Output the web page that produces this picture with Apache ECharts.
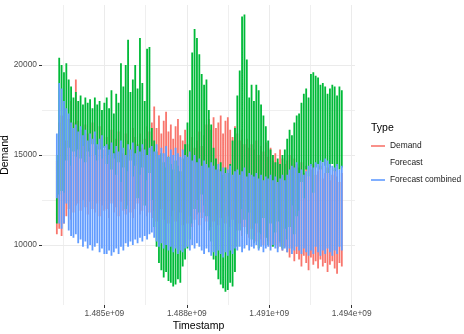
<!DOCTYPE html>
<html>
<head>
<meta charset="utf-8">
<script src="https://cdn.jsdelivr.net/npm/echarts@6/dist/echarts.min.js"></script>
<style>
html,body{margin:0;padding:0;background:#fff;}
#c{width:464px;height:334px;}
</style>
</head>
<body>
<div id="c"></div>
<script>
// ---- data (daily low / high envelope of hourly values) ----
const firstDay = 1483228800;          // 2017-01-01 00:00 UTC
const daySeconds = 86400;
const seriesNames = ['Demand', 'Forecast', 'Forecast combined'];
const seriesColors = ['#F8766D', '#00BA38', '#619CFF'];
const xTickValues = [1.485e9, 1.488e9, 1.491e9, 1.494e9];
const xGridValues = [1.4835e9, 1.485e9, 1.4865e9, 1.488e9, 1.4895e9, 1.491e9, 1.4925e9, 1.494e9];
const yTickValues = [10000, 15000, 20000];
const yGridValues = [10000, 12500, 15000, 17500, 20000];

const demandHigh = [
  14700, 16800, 17200,
  16500, 15800, 17000, 18000, 16800, 19200,
  16900, 16400, 15600, 16700, 16200, 15400, 16800, 16100, 15500, 16600, 16000, 15300,
  16000, 15600, 16400, 15200, 15900, 16300, 15500, 15100, 16200, 15800, 15300, 16500, 16000, 15600, 16200, 15400, 15900, 16600, 16300,
  16800, 17700, 16500, 17200, 16200, 16900, 17400, 16300, 16700, 15900, 16600, 17000, 16100, 15800, 16400,
  15600, 15200, 16000, 15400, 15800, 16300, 15500, 16100, 16700, 17000, 16400,
  17100, 16500, 16800, 17200, 16200, 16900, 17100, 16400, 16000, 16600,
  16200, 15800, 16400, 15600, 15900, 15400, 15600,
  15300, 15800, 15000, 15500, 15200, 15700,
  14900, 15400, 14700, 15100, 14600, 15300, 14800, 14500,
  14700, 15000, 14400, 14800, 14500,
  14300, 14600, 14000, 14400, 13800, 14200, 14500, 13900, 14100, 14400, 13700, 14000, 14300, 13600, 13900, 14200, 13800, 13500, 14000
];
const demandLow = [
  10600, 10900, 10500,
  11200, 11600, 12000, 11400, 11800, 12200,
  12300, 11900, 12500, 12100, 11700, 12400, 12000, 11800, 12300, 11600, 12200, 11900,
  12000, 11500, 12300, 11800, 12100, 11600, 12400, 11900, 11700, 12200, 11800, 11500, 12000, 12300, 11700, 11900, 12200, 11600, 11800,
  11500, 11900, 11300, 11700, 12000, 11400, 11800, 11200, 11600, 11900, 11300, 11500, 11800, 11100, 11400,
  11200, 11600, 11000, 11400, 11700, 11100, 11500, 11800, 11300, 11600, 11000,
  11300, 11700, 11100, 11500, 11800, 11200, 11600, 11000, 11400, 11100,
  10800, 11200, 10500, 11000, 10700, 10400, 10900,
  10500, 10200, 10700, 10300, 10000, 10400,
  10200, 9900, 10300, 10000, 9800, 10100, 9700, 9900,
  9600, 9300, 9800, 9100, 9500,
  9200, 8800, 9400, 9000, 8600, 9300, 8900, 9100, 8700, 9200, 8800, 9000, 8500, 8900, 9100, 8700, 8400, 9000, 8800
];
const forecastHigh = [
  15000, 20400, 20000,
  19600, 20100, 19200, 18800, 18200, 18500,
  18000, 18300, 17800, 18200, 17900, 18100, 17600, 18200, 17800, 18000, 17500, 17900,
  18200, 17600, 18600, 17300, 18400, 17900, 20100, 18800, 20000, 21400, 18500, 19200, 20000, 18700, 21500, 19000, 18000, 20900, 21000,
  16500, 15800, 15200, 14800, 15100, 14600, 14300, 14900, 14500, 14200, 14700, 14400, 14100, 14800, 15600,
  16800, 18600, 20700, 22000, 21500, 20600, 19500, 18900, 19200, 17500, 16700,
  15400, 14800, 14200, 14600, 13900, 14300, 14000, 14500, 15800, 16500,
  18300, 19700, 22700, 22800, 20300, 18200, 18900,
  18000, 18900, 18600, 17800, 17200, 16600,
  15800, 15300, 15000, 14600, 14800, 14500, 15000, 15300,
  15900, 16400, 16100, 16800, 17200,
  17300, 17900, 18400, 18700, 18200, 19500, 19600, 19400, 19300, 18900, 19000, 18800, 18400, 18700, 18900, 18800, 18300, 18800, 18600
];
const forecastLow = [
  11200, 12800, 13000,
  12900, 14700, 15400, 14400, 15200, 14900,
  15300, 14800, 15500, 14600, 15200, 14900, 15600, 15000, 14700, 15300, 14800, 15400,
  14500, 15000, 14200, 14800, 13900, 14600, 13500, 14300, 12000, 14100, 14700, 13800, 14400, 12600, 13900, 14300, 12200, 13600, 14000,
  12500, 11000, 9900, 9000, 8600, 8200, 8500, 8000, 7900, 7700, 7800, 8100, 7900, 8800, 9200,
  9800, 10300, 11200, 12000, 12500, 11800, 12800, 12200, 11600, 10800, 10200,
  9200, 8600, 8100, 7800, 7600, 7400, 7500, 7900, 7700, 8500,
  9900, 10800, 12000, 11400, 10600, 11800, 10300,
  10100, 11200, 9800, 10600, 11500, 10400,
  10000, 11200, 9900, 10700, 11300, 10200, 9800, 10900,
  10300, 11000, 12200, 10600, 11600,
  11900, 13500, 12600, 14200, 13800, 14400, 12900, 14300, 14500, 14200, 14600, 14400, 14000, 14300, 14500, 14100, 14400, 14200, 14300
];
const combinedHigh = [
  16200, 19000, 18700,
  18000, 17600, 17300, 16800, 16500, 16700,
  16300, 16600, 16100, 16400, 15800, 16200, 15900, 16300, 15600, 15900, 16100, 15500,
  15600, 15300, 15700, 15100, 15500, 15200, 15800, 15400, 15000, 15600, 15300, 15700, 15100, 15500, 15200, 15600, 15300, 15000, 15400,
  15500, 15200, 15600, 15000, 15400, 15100, 15500, 14900, 15300, 15000, 15400, 15100, 14900, 15300, 15000,
  14900, 15200, 14700, 15000, 14600, 14800, 14400, 14700, 14500, 14300, 14600,
  14400, 14200, 14500, 14100, 14300, 14000, 14200, 14400, 13900, 14100,
  14200, 13900, 14100, 14300, 13800, 14000, 13900,
  13800, 14000, 13700, 13900, 13600, 13800,
  13700, 13900, 13600, 13800, 13500, 13700, 13900, 13600,
  13900, 14200, 14400, 14300, 14600,
  14000, 14200, 13900, 14100, 14400, 14500, 14300, 14600, 14500, 14700, 14600, 14800, 14700, 14500, 14400, 14300, 14500, 14200, 14400
];
const combinedLow = [
  12600, 11200, 10900,
  11200, 12300, 10800, 10500, 10400, 10600,
  10100, 10300, 9900, 10200, 9800, 10000, 9700, 9900, 10100, 9600, 9800, 9500,
  9500, 9700, 9400, 9600, 9800, 9500, 9900, 9700, 10100, 9900, 10200, 10000, 10300, 10100, 10400, 10200, 10500, 10300, 10600,
  10700, 10400, 10200, 9900, 10100, 9800, 10000, 9700, 9900, 9600, 9800, 9500, 9700, 9600, 9800,
  9900, 9700, 10000, 9800, 10100, 9900, 9700, 9500, 9800, 9600, 9400,
  9600, 9400, 9700, 9500, 9300, 9600, 9400, 9700, 9500, 9800,
  9700, 9900, 9600, 9800, 10000, 9700, 9900,
  9800, 10000, 9700, 9900, 9600, 9800,
  9900, 9700, 10000, 9800, 9600, 9900, 9700, 9800,
  9600, 9800, 9500, 9700, 9900,
  9700, 9500, 9800, 9600, 9400, 9700, 9500, 9900, 9600, 9400, 9700, 9500, 9800, 9600, 9400, 9700, 9500, 9900, 9700
];

// ---- build ----
function strokes(lows, highs) {
  const n = Math.min(lows.length, highs.length);
  const out = [];
  for (let i = 0; i < n; i++) {
    const t = firstDay + i * daySeconds + 12 * 3600;
    out.push([t, lows[i]]);
    out.push([t, highs[i]]);
    out.push([t, '-']);
  }
  return out;
}
const seriesData = [
  strokes(demandLow, demandHigh),
  strokes(forecastLow, forecastHigh),
  strokes(combinedLow, combinedHigh)
];

const FONT = '"Liberation Sans", Arial, Helvetica, sans-serif';
const chart = echarts.init(document.getElementById('c'), null, {renderer: 'canvas'});

const gridSeries = {
  type: 'line', name: '_grid', data: [], z: 0, silent: true, animation: false,
  markLine: {
    silent: true, symbol: 'none', animation: false, z: 0,
    label: {show: false},
    data: [
      ...yGridValues.map(v => ({yAxis: v, lineStyle: {color: '#ebebeb', width: (v % 5000 === 0) ? 1 : 0.8, type: 'solid'}})),
      ...xGridValues.map(v => ({xAxis: v, lineStyle: {color: '#ebebeb', width: (xTickValues.includes(v)) ? 1 : 0.8, type: 'solid'}}))
    ]
  }
};

chart.setOption({
  animation: false,
  backgroundColor: '#ffffff',
  title: [{
    text: 'Type', left: 371, top: 123, padding: 0,
    textStyle: {fontSize: 10.5, fontWeight: 'normal', color: '#000', fontFamily: FONT}
  }],
  legend: {
    orient: 'vertical', left: 371, top: 140, padding: 0,
    icon: 'rect', itemWidth: 14, itemHeight: 1.6, itemGap: 5,
    textStyle: {fontSize: 8.4, color: '#1a1a1a', fontFamily: FONT, lineHeight: 12},
    data: [
      {name: 'Demand'},
      {name: 'Forecast', itemStyle: {opacity: 0}, lineStyle: {opacity: 0}},
      {name: 'Forecast combined'}
    ],
    selectedMode: false
  },
  grid: {left: 42, right: 109, top: 5, bottom: 29, containLabel: false, outerBoundsMode: 'none'},
  xAxis: {
    type: 'value', min: 1482732000, max: 1494120000,
    name: 'Timestamp', nameLocation: 'middle', nameGap: 16, nameMoveOverlap: false,
    nameTextStyle: {fontSize: 10.5, color: '#000', fontFamily: FONT},
    axisLine: {show: false},
    axisTick: {show: true, customValues: xTickValues, length: 3, lineStyle: {color: '#333333', width: 1}},
    axisLabel: {customValues: xTickValues, fontSize: 8.4, color: '#4d4d4d', fontFamily: FONT, margin: 5,
      formatter: v => (v / 1e9).toFixed(3) + 'e+09'},
    splitLine: {show: false}
  },
  yAxis: {
    type: 'value', min: 6666.67, max: 23333.33,
    name: 'Demand', nameLocation: 'middle', nameGap: 31, nameMoveOverlap: false,
    nameTextStyle: {fontSize: 10.5, color: '#000', fontFamily: FONT},
    axisLine: {show: false},
    axisTick: {show: true, customValues: yTickValues, length: 3, lineStyle: {color: '#333333', width: 1}},
    axisLabel: {customValues: yTickValues, fontSize: 8.4, color: '#4d4d4d', fontFamily: FONT, margin: 5,
      formatter: v => String(v)},
    splitLine: {show: false}
  },
  series: [gridSeries].concat(seriesNames.map((name, k) => ({
    type: 'line', name: name, data: seriesData[k],
    showSymbol: false, symbol: 'none', connectNulls: false,
    color: seriesColors[k],
    lineStyle: {color: seriesColors[k], width: 1.8},
    z: 2 + k, animation: false, silent: true
  })))
});
</script>
</body>
</html>
